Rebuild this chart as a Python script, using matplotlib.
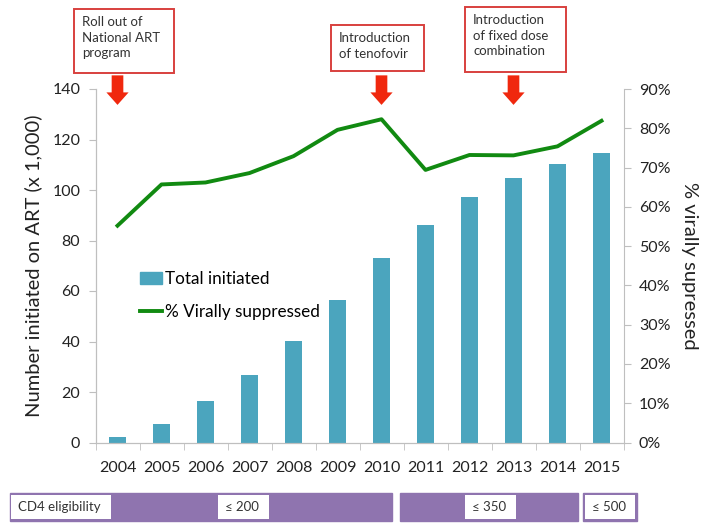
import matplotlib.pyplot as plt
from matplotlib.patches import Rectangle
from matplotlib.lines import Line2D
from matplotlib.ticker import PercentFormatter

plt.rcParams['font.family'] = ['Lato', 'DejaVu Sans']

years = ['2004', '2005', '2006', '2007', '2008', '2009', '2010',
         '2011', '2012', '2013', '2014', '2015']
total_initiated = [2.3, 7.5, 16.3, 26.6, 40.3, 56.4, 72.9, 86.1, 97.1, 104.9, 110.2, 114.8]
pct_suppressed = [55.2, 65.7, 66.2, 68.6, 72.9, 79.6, 82.3, 69.4, 73.2, 73.1, 75.4, 81.9]

events = ['Roll out of\nNational ART\nprogram', 'Introduction\nof tenofovir',
          'Introduction\nof fixed dose\ncombination']
event_years = ['2004', '2010', '2013']

cd4_labels = ['CD4 eligibility', '\u2264 200', '\u2264 350', '\u2264 500']

W, H = 708, 526
fig = plt.figure(figsize=(W / 100, H / 100), dpi=100)
ax = fig.add_axes([95.5 / W, 1 - 442.5 / H, 528 / W, 353.5 / H])
ax2 = ax.twinx()

bar_color = '#4BA5BE'
line_color = '#118A11'
axis_gray = '#BFBFBF'
x = range(len(years))

ax.bar(x, total_initiated, width=0.38, color=bar_color, zorder=2)
ax2.plot(x, pct_suppressed, color=line_color, lw=2.8, zorder=3)

ax.set_xlim(-0.5, len(years) - 0.5)
ax.set_ylim(0, 140)
ax.set_yticks(range(0, 141, 20))
ax2.set_ylim(0, 90)
ax2.set_yticks(range(0, 91, 10))
ax2.yaxis.set_major_formatter(PercentFormatter(decimals=0))

ax.set_xticks(list(x))
ax.set_xticklabels(years)
ax.set_xticks([i + 0.5 for i in range(-1, len(years))], minor=True)
ax.tick_params(axis='x', which='major', length=0, pad=13, labelsize=11.5, labelcolor='#222222')
ax.tick_params(axis='x', which='minor', length=5, color=axis_gray)
ax.tick_params(axis='y', length=5, color=axis_gray, labelsize=11.5, labelcolor='#222222', pad=6)
ax2.tick_params(axis='y', length=5, color=axis_gray, labelsize=11.5, labelcolor='#222222', pad=6)

for a in (ax, ax2):
    a.spines['top'].set_visible(False)
    for s in ('left', 'right', 'bottom'):
        a.spines[s].set_color(axis_gray)
ax.spines['right'].set_visible(False)

ax.set_ylabel('Number initiated on ART (x 1,000)', fontsize=14.5, color='#222222', labelpad=7)
ax2.set_ylabel('% virally supressed', fontsize=14.5, color='#222222', rotation=-90, labelpad=20)

handles = [Rectangle((0, 0), 1, 1, color=bar_color),
           Line2D([0], [0], color=line_color, lw=2.8)]
ax.legend(handles, ['Total initiated', '% Virally suppressed'], loc='upper left',
          bbox_to_anchor=(0.055, 0.528), frameon=False, fontsize=12.3,
          handlelength=1.3, handletextpad=0.15, labelspacing=1.0)

# event boxes and arrows
box_px = [(74, 9, 100, 64), (331, 25, 93, 46), (465, 7, 101, 65)]
for label, yr, (bx, by, bw, bh) in zip(events, event_years, box_px):
    fig.add_artist(Rectangle((bx / W, 1 - (by + bh) / H), bw / W, bh / H,
                             transform=fig.transFigure, facecolor='white',
                             edgecolor='#D8403E', lw=1.4))
    fig.text((bx + 8) / W, 1 - (by + 7) / H, label, fontsize=9.5, va='top', ha='left',
             color='#333333', linespacing=1.35)
    xi = years.index(yr)
    ax.annotate('', xy=(xi, 132.6), xytext=(xi, 146.5), annotation_clip=False,
                arrowprops=dict(arrowstyle='simple,head_length=0.45,head_width=0.8,tail_width=0.42',
                                mutation_scale=20, color='#F0280E', lw=0))

# CD4 eligibility strip
purple = '#8F74AF'
strip_y0, strip_h = 493, 28
for sx0, sx1 in [(10, 392), (400, 578), (583, 637)]:
    fig.add_artist(Rectangle((sx0 / W, 1 - (strip_y0 + strip_h) / H), (sx1 - sx0) / W, strip_h / H,
                             transform=fig.transFigure, facecolor=purple, edgecolor=purple, lw=1))
white_boxes = [(11, 111), (218, 269), (465, 516), (585, 635)]
for (wx0, wx1), lab in zip(white_boxes, cd4_labels):
    fig.add_artist(Rectangle((wx0 / W, 1 - (strip_y0 + strip_h - 2) / H), (wx1 - wx0) / W, (strip_h - 4) / H,
                             transform=fig.transFigure, facecolor='white', edgecolor='none'))
    fig.text((wx0 + 7) / W, 1 - (strip_y0 + strip_h / 2) / H, lab, fontsize=9.5,
             va='center', ha='left', color='#333333')

fig.savefig('out.png', dpi=100)
